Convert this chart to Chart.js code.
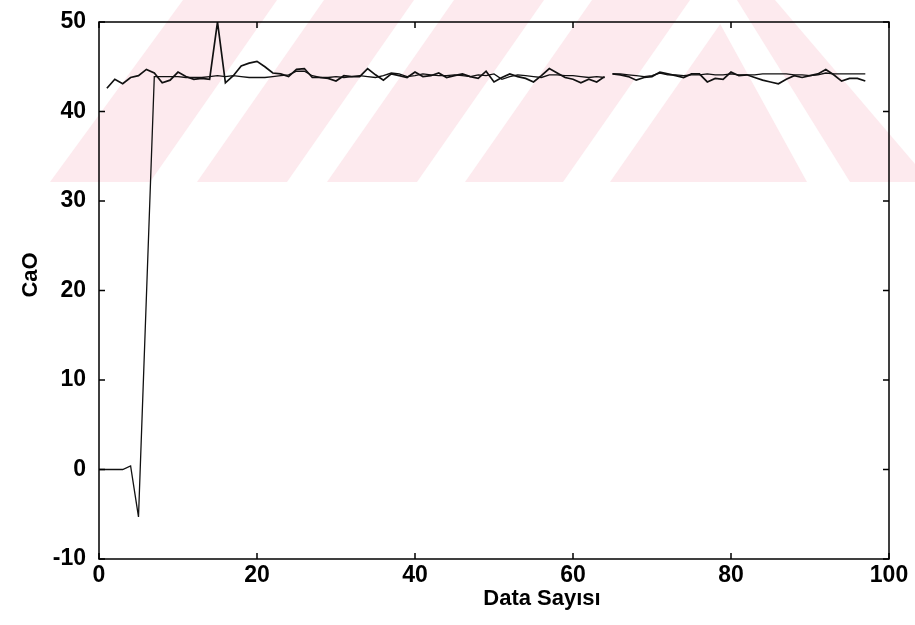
<!DOCTYPE html>
<html>
<head>
<meta charset="utf-8">
<script src="https://cdn.jsdelivr.net/npm/chart.js@4.4.1/dist/chart.umd.min.js"></script>
<style>
  html, body { margin: 0; padding: 0; background: #fff; }
  #wrap { width: 915px; height: 625px; }
</style>
</head>
<body>
<div id="wrap"><canvas id="cao" width="915" height="625"></canvas></div>
<script>
// eksen tick degerleri ve basliklar
const xTicks = [0, 20, 40, 60, 80, 100];
const yTicks = [-10, 0, 10, 20, 30, 40, 50];
const xBaslik = 'Data Sayısı';
const yBaslik = 'CaO';

// olculen CaO, x = 1..64 ve 65..97 (64-65 arasi bosluk)
const olcumStart1 = 1;
const olcum1 = [
  42.6, 43.6, 43.1, 43.8, 44.0, 44.7, 44.3, 43.2, 43.5, 44.4,
  43.9, 43.6, 43.7, 43.6, 50.0, 43.2, 44.0, 45.1, 45.4, 45.6,
  45.0, 44.3, 44.2, 43.9, 44.7, 44.8, 43.8, 43.8, 43.7, 43.4,
  44.0, 43.9, 43.9, 44.8, 44.1, 43.5, 44.2, 44.0, 43.8, 44.4,
  43.9, 44.0, 44.3, 43.8, 44.0, 44.2, 43.9, 43.7, 44.5, 43.3,
  43.8, 44.2, 43.9, 43.7, 43.3, 44.0, 44.8, 44.3, 43.8, 43.6,
  43.2, 43.6, 43.3, 43.9
];
const olcumStart2 = 65;
const olcum2 = [
  44.2, 44.1, 43.9, 43.5, 43.8, 43.9, 44.4, 44.2, 44.0, 43.8,
  44.2, 44.2, 43.3, 43.7, 43.6, 44.4, 44.0, 44.1, 43.8, 43.5,
  43.3, 43.1, 43.6, 44.0, 43.8, 44.0, 44.2, 44.7, 44.1, 43.4,
  43.7, 43.7, 43.4
];

// model cikisi, x = 0..64 ve 65..97 (x=6 okunamadi)
const modelStart1 = 0;
const model1 = [
  0, 0, 0, 0, 0.4, -5.3, null, 43.9, 43.9, 43.9,
  43.9, 43.8, 43.8, 43.8, 43.9, 44.0, 43.9, 44.0, 43.9, 43.8,
  43.8, 43.8, 43.9, 44.0, 44.1, 44.5, 44.5, 44.0, 43.8, 43.8,
  43.9, 43.8, 43.9, 44.0, 43.9, 43.8, 44.0, 44.3, 44.2, 43.9,
  44.0, 44.2, 44.1, 44.0, 44.0, 44.1, 44.0, 43.9, 44.1, 44.0,
  44.2, 43.6, 43.9, 44.1, 44.0, 43.9, 43.8, 44.1, 44.1, 44.0,
  44.0, 43.9, 43.8, 43.9, 43.8
];
const modelStart2 = 65;
const model2 = [
  44.2, 44.2, 44.1, 44.0, 43.9, 44.0, 44.3, 44.1, 44.1, 44.0,
  44.1, 44.1, 44.2, 44.1, 44.1, 44.2, 44.1, 44.1, 44.1, 44.2,
  44.2, 44.2, 44.2, 44.1, 44.1, 44.0, 44.1, 44.3, 44.2, 44.2,
  44.2, 44.2, 44.2
];

function toPoints(start, values) {
  return values.map((v, i) => ({ x: start + i, y: v }));
}

const FONT = 'Liberation Sans, Arial, sans-serif';

// arka plandaki pembe filigran
const filigran = {
  id: 'filigran',
  beforeDraw(chart) {
    const ctx = chart.ctx;
    const poly = (pts, color) => {
      ctx.fillStyle = color;
      ctx.beginPath();
      pts.forEach((p, i) => i ? ctx.lineTo(p[0], p[1]) : ctx.moveTo(p[0], p[1]));
      ctx.closePath();
      ctx.fill();
    };
    ctx.save();
    ctx.fillStyle = '#fff';
    ctx.fillRect(0, 0, chart.width, chart.height);
    poly([[50, 182], [183, 0], [775, 0], [915, 164], [915, 182]], '#fdeaee');
    poly([[150, 182], [197, 182], [324, 0], [277, 0]], '#fff');
    poly([[287, 182], [327, 182], [454, 0], [414, 0]], '#fff');
    poly([[417, 182], [465, 182], [592, 0], [544, 0]], '#fff');
    poly([[563, 182], [610, 182], [737, 0], [690, 0]], '#fff');
    poly([[707, 0], [737, 0], [850, 182], [807, 182]], '#fff');
    ctx.restore();
  }
};

// kutu cerceve, ice dogru tick'ler ve eksen basliklari
const cerceve = {
  id: 'cerceve',
  afterDraw(chart) {
    const { ctx, chartArea: a, scales: { x, y } } = chart;
    const L = 6;
    ctx.save();
    ctx.strokeStyle = '#000';
    ctx.lineWidth = 1.5;
    ctx.strokeRect(a.left, a.top, a.right - a.left, a.bottom - a.top);
    ctx.beginPath();
    x.ticks.forEach(t => {
      const px = x.getPixelForValue(t.value);
      ctx.moveTo(px, a.bottom); ctx.lineTo(px, a.bottom - L);
      ctx.moveTo(px, a.top); ctx.lineTo(px, a.top + L);
    });
    y.ticks.forEach(t => {
      const py = y.getPixelForValue(t.value);
      ctx.moveTo(a.left, py); ctx.lineTo(a.left + L, py);
      ctx.moveTo(a.right, py); ctx.lineTo(a.right - L, py);
    });
    ctx.stroke();

    ctx.fillStyle = '#000';
    ctx.font = 'bold 22px ' + FONT;
    ctx.textAlign = 'center';
    ctx.textBaseline = 'middle';
    ctx.fillText(xBaslik, 542, 599);
    ctx.translate(31, 275);
    ctx.rotate(-Math.PI / 2);
    ctx.fillText(yBaslik, 0, 0);
    ctx.restore();
  }
};

const lineStyle = (w) => ({
  borderColor: '#111',
  borderWidth: w,
  pointRadius: 0,
  fill: false,
  tension: 0,
  spanGaps: true
});

new Chart(document.getElementById('cao'), {
  type: 'line',
  data: {
    datasets: [
      Object.assign({ label: 'Model', data: toPoints(modelStart1, model1) }, lineStyle(1.3)),
      Object.assign({ label: 'Model', data: toPoints(modelStart2, model2) }, lineStyle(1.3)),
      Object.assign({ label: 'Olcum', data: toPoints(olcumStart1, olcum1) }, lineStyle(1.7)),
      Object.assign({ label: 'Olcum', data: toPoints(olcumStart2, olcum2) }, lineStyle(1.7))
    ]
  },
  options: {
    responsive: false,
    animation: false,
    layout: { padding: { top: 22, right: 26, left: 0, bottom: 0 } },
    plugins: { legend: { display: false }, tooltip: { enabled: false } },
    scales: {
      x: {
        type: 'linear',
        min: 0,
        max: 100,
        afterFit(s) { s.height = 66; s.paddingLeft = 0; s.paddingRight = 0; },
        afterBuildTicks(s) { s.ticks = xTicks.map(v => ({ value: v })); },
        grid: { display: false, drawTicks: false },
        border: { display: false },
        ticks: { padding: 3, maxRotation: 0, color: '#000', font: { family: FONT, size: 23, weight: 'bold' } }
      },
      y: {
        type: 'linear',
        min: -10,
        max: 50,
        afterFit(s) { s.width = 99; s.paddingTop = 0; s.paddingBottom = 0; },
        afterBuildTicks(s) { s.ticks = yTicks.map(v => ({ value: v })); },
        grid: { display: false, drawTicks: false },
        border: { display: false },
        ticks: { padding: 13, color: '#000', font: { family: FONT, size: 23, weight: 'bold' } }
      }
    }
  },
  plugins: [filigran, cerceve]
});
</script>
</body>
</html>
